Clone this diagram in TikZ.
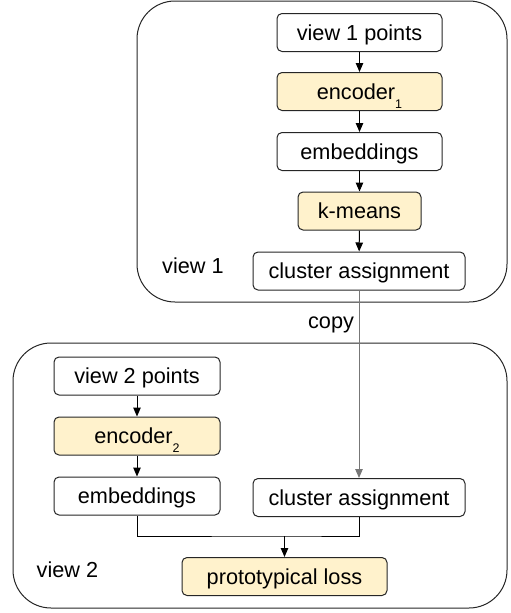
\documentclass[tikz,border=0pt]{standalone}
\usepackage{fontspec}
\setmainfont{Liberation Sans}
\usetikzlibrary{arrows.meta}
\definecolor{lyellow}{HTML}{FFF2CC}
\definecolor{copygray}{HTML}{777777}
\newcommand{\subdig}[1]{\smash{\raisebox{-9pt}{\fontsize{12.5}{12.5}\selectfont #1}}}
\begin{document}
\begin{tikzpicture}[x=1pt,y=-1pt,
  every node/.style={font=\fontsize{21.7}{26}\selectfont},
  stepbox/.style={draw=black!85, line width=1pt, rounded corners=5pt, fill=white,
    inner xsep=0pt, inner ysep=0pt, text height=18pt, text depth=3pt,
    minimum height=38pt},
  yellowbox/.style={stepbox, fill=lyellow},
  container/.style={draw=black!85, line width=1pt, rounded corners=38pt},
  arr/.style={line width=1pt, -{Triangle[length=9pt,width=7.5pt]}},
  lbl/.style={inner sep=0pt, text height=15pt, text depth=4pt}
]
\useasboundingbox (0,0) rectangle (511,613);
% containers
\draw[container] (137,1) rectangle (507,302);
\draw[container] (13,343) rectangle (507,608);
% view 1
\node[stepbox, minimum width=165pt] (v1p) at (359.5,32.5) {view 1 points};
\node[yellowbox, minimum width=165pt] (enc1) at (359.5,91.5) {encoder\subdig{1}};
\node[stepbox, minimum width=165pt] (emb1) at (359.5,151.5) {embeddings};
\node[yellowbox, minimum width=123pt] (km) at (359.5,211) {k-means};
\node[stepbox, minimum width=212pt] (ca1) at (359,271) {cluster assignment};
\node[lbl] (view1) at (193,268) {view 1};
% view 2
\node[stepbox, minimum width=166pt] (v2p) at (137,376) {view 2 points};
\node[yellowbox, minimum width=166pt] (enc2) at (137,436) {encoder\subdig{2}};
\node[stepbox, minimum width=166pt] (emb2) at (137,496) {embeddings};
\node[stepbox, minimum width=212pt] (ca2) at (359,497.5) {cluster assignment};
\node[yellowbox, minimum width=205pt] (pl) at (284.5,576.5) {prototypical loss};
\node[lbl] (view2) at (67.5,572) {view 2};
\node[lbl] (copy) at (331,323) {copy};
% arrows
\draw[arr] (v1p) -- (enc1);
\draw[arr] (enc1) -- (emb1);
\draw[arr] (emb1) -- (km);
\draw[arr] (km) -- (ca1);
\draw[arr] (v2p) -- (enc2);
\draw[arr] (enc2) -- (emb2);
\draw[arr, draw=copygray, fill=copygray] (ca1.south) -- (ca2.north);
\coordinate (merge) at (284.5,536);
\draw[line width=1pt] (emb2.south) |- (merge) -| (ca2.south);
\draw[arr] (merge) -- (pl.north);
\end{tikzpicture}
\end{document}
